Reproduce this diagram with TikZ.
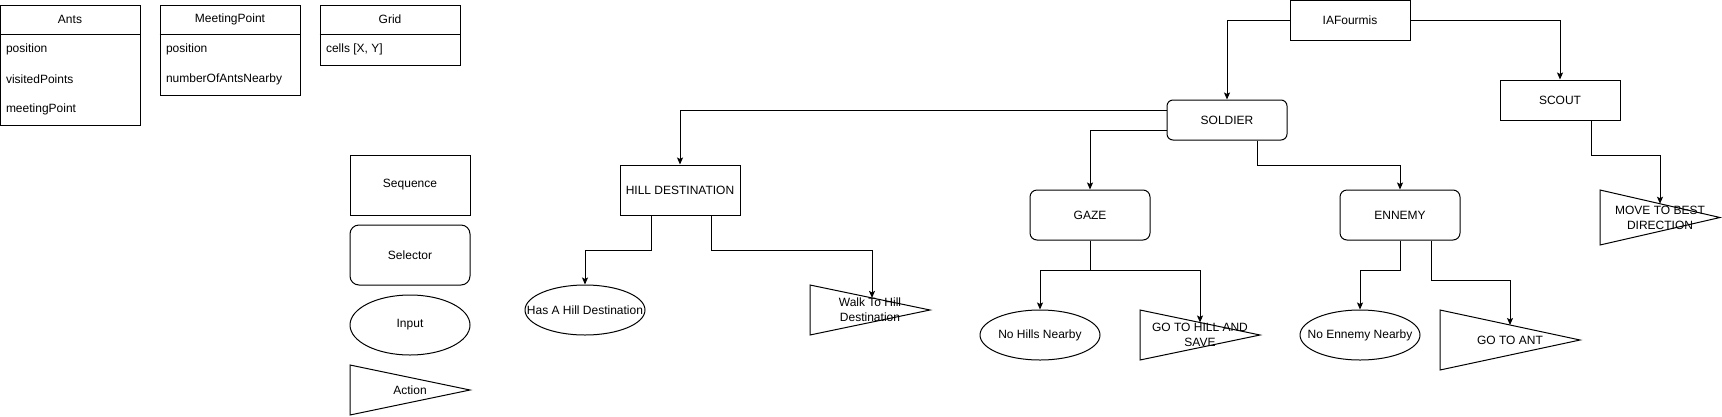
\documentclass[tikz,border=0pt]{standalone}
\usepackage{fontspec}
\setmainfont{Liberation Sans}
\usetikzlibrary{shapes.geometric,arrows.meta}
\begin{document}
\begin{tikzpicture}[x=1pt,y=-1pt,line width=1pt,
  font=\fontsize{12}{14}\selectfont,
  seqbox/.style={draw,rectangle,minimum width=120pt,inner sep=0pt,align=center},
  selbox/.style={draw,rectangle,rounded corners=7pt,minimum width=120pt,inner sep=0pt,align=center},
  inpell/.style={draw,ellipse,minimum width=120pt,minimum height=50pt,inner sep=0pt,
    label={[inner sep=0pt]center:#1}},
  acttri/.style={draw,line join=miter},
  acttxt/.style={align=center,inner sep=0pt,font=\fontsize{12}{15}\selectfont},
  classbox/.style={draw,rectangle,minimum width=140pt,inner sep=0pt},
  classitem/.style={anchor=west,inner sep=0pt},
  arr/.style={-{Stealth[length=7pt,width=6pt,inset=1.5pt]}}
]
\useasboundingbox (0,0) rectangle (1722,416);

% ---- class boxes
\node[classbox,minimum height=120pt] (ants) at (70,65) {};
\draw ([yshift=-30pt]ants.north west) -- ([yshift=-30pt]ants.north east);
\node (antsh) at ([yshift=-15pt]ants.north) {Ants};
\node[classitem] (antsa) at ([xshift=6pt,yshift=-45pt]ants.north west) {position};
\node[classitem] (antsb) at ([xshift=6pt,yshift=-75pt]ants.north west) {visitedPoints};
\node[classitem] (antsc) at ([xshift=6pt,yshift=-105pt]ants.north west) {meetingPoint};

\node[classbox,minimum height=90pt] (mp) at (230,50) {};
\draw ([yshift=-30pt]mp.north west) -- ([yshift=-30pt]mp.north east);
\node (mph) at ([yshift=-15pt]mp.north) {MeetingPoint};
\node[classitem] (mpa) at ([xshift=6pt,yshift=-45pt]mp.north west) {position};
\node[classitem] (mpb) at ([xshift=6pt,yshift=-75pt]mp.north west) {numberOfAntsNearby};

\node[classbox,minimum height=60pt] (grid) at (390,35) {};
\draw ([yshift=-30pt]grid.north west) -- ([yshift=-30pt]grid.north east);
\node (gridh) at ([yshift=-15pt]grid.north) {Grid};
\node[classitem] (grida) at ([xshift=6pt,yshift=-45pt]grid.north west) {cells [X, Y]};

% ---- legend
\node[seqbox,minimum height=60pt] (lseq) at (410,185) {Sequence};
\node[selbox,rounded corners=9pt,minimum height=60pt] (lsel) at (410,255) {Selector};
\node[inpell={Input},minimum height=60pt] (linp) at (410,325) {};
\draw[acttri] (350,365) -- (470,390) -- (350,415) -- cycle;
\node[acttxt] (lact) at (410,390) {Action};

% ---- tree nodes
\node[seqbox,minimum height=40pt] (ia) at (1350,20) {IAFourmis};
\node[selbox,rounded corners=6pt,minimum height=40pt] (sold) at (1227,120) {SOLDIER};
\node[seqbox,minimum height=40pt] (scout) at (1560,100) {SCOUT};
\node[seqbox,minimum height=50pt] (hill) at (680,190) {HILL DESTINATION};
\node[selbox,minimum height=50pt] (gaze) at (1090,215) {GAZE};
\node[selbox,minimum height=50pt] (enn) at (1400,215) {ENNEMY};

\node[inpell={Has A Hill Destination}] (has) at (585,310) {};
\node[inpell={No Hills Nearby}] (nohill) at (1040,335) {};
\node[inpell={No Ennemy Nearby}] (noenn) at (1360,335) {};

% action triangles
\draw[acttri] (810,285) -- (930,310) -- (810,335) -- cycle;
\coordinate (walkin) at (872,297.9);
\draw[acttri] (1140,310) -- (1260,335) -- (1140,360) -- cycle;
\coordinate (gohillin) at (1200,322.5);
\draw[acttri] (1440,310) -- (1580,340) -- (1440,370) -- cycle;
\coordinate (goantin) at (1510,325);
\draw[acttri] (1600,190) -- (1720,217.5) -- (1600,245) -- cycle;
\coordinate (movein) at (1660,203.75);

% ---- connectors
\draw[arr] (ia.west) -| (sold.north);
\draw[arr] (ia.east) -| (scout.north);
\draw[arr] ([yshift=10pt]sold.west) -| (hill.north);
\draw[arr] ([yshift=-10pt]sold.west) -| (gaze.north);
\draw[arr] ([xshift=30pt]sold.south) -- ++(0,25) -| (enn.north);
\draw[arr] ([xshift=31pt]scout.south) -- ++(0,35) -| (movein);
\draw[arr] ([xshift=-29pt]hill.south) -- ++(0,35) -| (has.north);
\draw[arr] ([xshift=31pt]hill.south) -- ++(0,35) -| (walkin);
\draw[arr] (gaze.south) -- ++(0,30) -| (nohill.north);
\draw[arr] (gaze.south) -- ++(0,30) -| (gohillin);
\draw[arr] (enn.south) -- ++(0,30) -| (noenn.north);
\draw[arr] ([xshift=31pt]enn.south) -- ++(0,40) -| (goantin);

% action texts (drawn on top)
\node[acttxt] (walk) at (870,310) {Walk To Hill\\Destination};
\node[acttxt] (gohill) at (1200,334.5) {GO TO HILL AND\\SAVE};
\node[acttxt] (goant) at (1510,340) {GO TO ANT};
\node[acttxt] (move) at (1660,218) {MOVE TO BEST\\DIRECTION};
\end{tikzpicture}
\end{document}
